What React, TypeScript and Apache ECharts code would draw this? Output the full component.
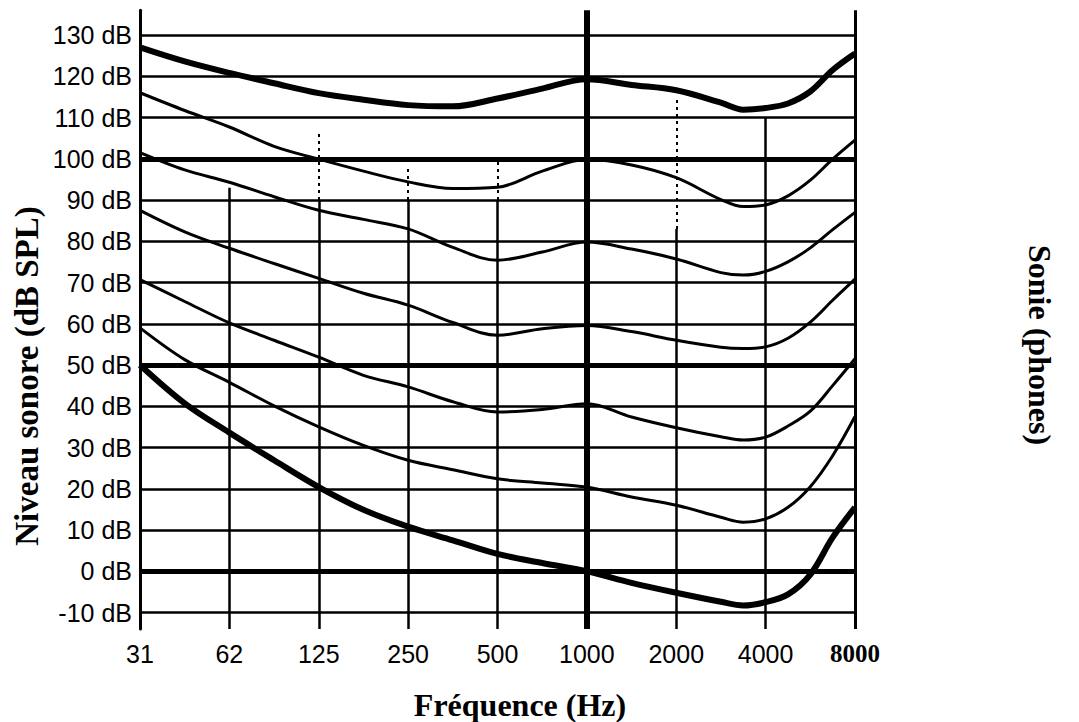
import React, { useEffect, useRef } from 'react';
import * as echarts from 'echarts';

// ---------- data ----------
const FREQS = [31.25, 44.2, 62.5, 88.4, 125, 176.8, 250, 353.6, 500, 707.1, 1000, 1414, 2000, 2828, 3364, 4000, 4757, 5657, 6727, 8000];
const X_TICK_LABELS = ['31', '62', '125', '250', '500', '1000', '2000', '4000', '8000'];
const Y_TICK_VALUES = [-10, 0, 10, 20, 30, 40, 50, 60, 70, 80, 90, 100, 110, 120, 130];
const BOLD_GRID_VALUES = [100, 50, 0];

const PHON_120 = [127, 123.6, 120.8, 118.3, 115.9, 114.3, 113, 112.7, 114.6, 117, 119.3, 117.9, 116.6, 113.6, 111.9, 112.3, 113.4, 116.3, 121.5, 125.5];
const PHON_100 = [116, 111.7, 107.7, 103, 99.9, 97, 94.4, 92.8, 93.1, 97, 99.8, 98.5, 95.4, 90.1, 88.4, 88.8, 91, 94.8, 99.9, 104.5];
const PHON_80 = [101.5, 97.3, 94.3, 90.8, 87.5, 85.3, 83, 78.5, 75.4, 77.4, 79.8, 78.1, 75.7, 72.4, 71.8, 72.7, 75, 78.4, 82.8, 87];
const PHON_60 = [87.5, 82.3, 78.3, 74.6, 71, 67.4, 64.5, 60.3, 57.2, 58.8, 59.6, 58.1, 56, 54.3, 54, 54.4, 56.5, 60.4, 65.7, 70.8];
const PHON_40 = [70.7, 65.4, 60.2, 56, 51.9, 47.5, 44.7, 41.1, 38.6, 39.2, 40.6, 37.4, 34.8, 32.6, 31.8, 32.5, 35.2, 38.8, 45, 51.5];
const PHON_20 = [59, 51.3, 45.8, 40.1, 35, 30.5, 26.9, 24.6, 22.4, 21.4, 20.4, 18, 16, 13.1, 11.9, 12.7, 15.5, 20.5, 28, 37.5];
const PHON_0 = [50, 40.7, 33.6, 26.9, 20.4, 14.9, 10.8, 7.5, 4.2, 2, 0, -2.8, -5.2, -7.4, -8.3, -7.5, -5.6, -0.8, 8.2, 15.5];

// ---------- styles (not data) ----------
const CURVES = [
  { name: '120', values: PHON_120, width: 6 },
  { name: '100', values: PHON_100, width: 3 },
  { name: '80', values: PHON_80, width: 3 },
  { name: '60', values: PHON_60, width: 3 },
  { name: '40', values: PHON_40, width: 3 },
  { name: '20', values: PHON_20, width: 3 },
  { name: '0', values: PHON_0, width: 6 },
];

const Y_MIN = -14;
const Y_MAX = 136;

// vertical grid lines: octave index, extent of solid part, dashed extension, width
const V_LINES = [
  { k: 1, solidTop: 93, dashTop: null as number | null, width: 2.5 },
  { k: 2, solidTop: 90, dashTop: 107, width: 2.5 },
  { k: 3, solidTop: 90, dashTop: 98, width: 2.5 },
  { k: 4, solidTop: 90, dashTop: 100, width: 2.5 },
  { k: 5, solidTop: 136, dashTop: null, width: 6 },
  { k: 6, solidTop: 83, dashTop: 115, width: 2.5 },
  { k: 7, solidTop: 110, dashTop: null, width: 2.5 },
  { k: 8, solidTop: 136, dashTop: null, width: 3 },
];

const octave = (f: number) => Math.log2(f / 31.25);

export default function App() {
  const ref = useRef<HTMLDivElement>(null);

  useEffect(() => {
    if (!ref.current) return;
    const chart = echarts.init(ref.current, undefined, { renderer: 'svg' });

    const hLines = Y_TICK_VALUES.map((v) => ({
      yAxis: v,
      lineStyle: { color: '#000', width: BOLD_GRID_VALUES.includes(v) ? 5 : 2.5, type: 'solid' },
    }));

    const vLines: any[] = [];
    V_LINES.forEach((l) => {
      const solid = { color: '#000', width: l.width, type: 'solid' };
      vLines.push([
        { coord: [l.k, Y_MIN], lineStyle: solid },
        { coord: [l.k, l.solidTop], lineStyle: solid },
      ]);
      if (l.dashTop !== null) {
        const dashed = { color: '#000', width: 2, type: [3, 4] };
        vLines.push([
          { coord: [l.k, l.solidTop], lineStyle: dashed },
          { coord: [l.k, l.dashTop], lineStyle: dashed },
        ]);
      }
    });

    const series: any[] = CURVES.map((c) => ({
      type: 'line',
      name: c.name,
      data: FREQS.map((f, i) => [octave(f), c.values[i]]),
      showSymbol: false,
      symbol: 'none',
      smooth: 0.35,
      lineStyle: { color: '#000', width: c.width },
      silent: true,
      z: 3,
    }));

    series.push({
      type: 'line',
      name: 'grid',
      data: [],
      silent: true,
      z: 2,
      markLine: {
        silent: true,
        symbol: ['none', 'none'],
        label: { show: false },
        animation: false,
        data: [...hLines, ...vLines],
      },
    });

    chart.setOption({
      animation: false,
      backgroundColor: '#fff',
      grid: { left: 140, right: 224, top: 10.25, bottom: 93, containLabel: false },
      xAxis: {
        type: 'value',
        min: 0,
        max: 8,
        interval: 1,
        axisLine: { show: false },
        axisTick: { show: false },
        splitLine: { show: false },
        axisLabel: {
          margin: 12,
          formatter: (v: number) => {
            const t = X_TICK_LABELS[Math.round(v)] ?? '';
            return Math.round(v) === 8 ? `{b|${t}}` : `{a|${t}}`;
          },
          rich: {
            a: { fontFamily: '"Liberation Sans", Arial, sans-serif', fontSize: 25, color: '#000' },
            b: { fontFamily: '"Liberation Serif", "Times New Roman", serif', fontWeight: 'bold', fontSize: 25, color: '#000' },
          },
        },
      },
      yAxis: {
        type: 'value',
        min: Y_MIN,
        max: Y_MAX,
        axisLine: { show: true, lineStyle: { color: '#000', width: 3 } },
        axisTick: { show: false },
        splitLine: { show: false },
        axisLabel: {
          customValues: Y_TICK_VALUES,
          margin: 8,
          formatter: (v: number) => `${v} dB`,
          fontFamily: '"Liberation Sans", Arial, sans-serif',
          fontSize: 25,
          color: '#000',
        },
      },
      graphic: [
        {
          type: 'text',
          x: 27,
          y: 376,
          rotation: Math.PI / 2,
          silent: true,
          style: {
            text: 'Niveau sonore (dB SPL)',
            font: 'bold 33px "Liberation Serif", "Times New Roman", serif',
            fill: '#000',
            textAlign: 'center',
            textVerticalAlign: 'middle',
            align: 'center',
            verticalAlign: 'middle',
          },
        },
        {
          type: 'text',
          x: 520,
          y: 705,
          silent: true,
          style: {
            text: 'Fréquence (Hz)',
            font: 'bold 32px "Liberation Serif", "Times New Roman", serif',
            fill: '#000',
            textAlign: 'center',
            textVerticalAlign: 'middle',
            align: 'center',
            verticalAlign: 'middle',
          },
        },
        {
          type: 'text',
          x: 1040,
          y: 345,
          rotation: -Math.PI / 2,
          silent: true,
          style: {
            text: 'Sonie (phones)',
            font: 'bold 32px "Liberation Serif", "Times New Roman", serif',
            fill: '#000',
            textAlign: 'center',
            textVerticalAlign: 'middle',
            align: 'center',
            verticalAlign: 'middle',
          },
        },
      ],
      series,
    });

    return () => chart.dispose();
  }, []);

  return (
    <div
      ref={ref}
      style={{ position: 'fixed', left: 0, top: 0, width: 1079, height: 722, background: '#fff' }}
    />
  );
}
